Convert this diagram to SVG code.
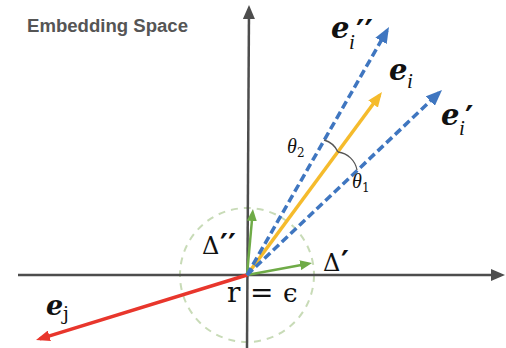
<svg xmlns="http://www.w3.org/2000/svg" width="506" height="348" viewBox="0 0 506 348">
<style>
.axis{stroke:#4d4d4d;stroke-width:2.5;fill:none}
.blue{stroke:#3f76c0;stroke-width:3.5;stroke-dasharray:8 4;fill:none}
.yellow{stroke:#f5bb2c;stroke-width:3.5;fill:none}
.red{stroke:#e8362c;stroke-width:3.5;fill:none}
.green{stroke:#6fab47;stroke-width:2.5;fill:none}
.arc{stroke:#555;stroke-width:1.3;fill:none}
.ring{stroke:#c8dbb7;stroke-width:2;stroke-dasharray:7 6;fill:none}
.ev{font-family:"DejaVu Serif",serif;font-weight:bold;font-style:italic;fill:#111}
.sub{font-family:"Liberation Serif",serif;font-style:italic;font-weight:normal;fill:#111}
.prime{font-family:"DejaVu Sans",sans-serif;font-weight:bold;font-style:normal;fill:#111}
.math{font-family:"DejaVu Serif","Liberation Serif",serif;fill:#111}
.title{font-family:"Liberation Sans",Arial,sans-serif;font-weight:bold;fill:#555}
</style>
<defs>
<marker id="mAxis" markerUnits="userSpaceOnUse" markerWidth="14" markerHeight="12" refX="10" refY="6" orient="auto"><path d="M0,0 L14,6 L0,12 z" fill="#4d4d4d"/></marker>
<marker id="mBlue" markerUnits="userSpaceOnUse" markerWidth="16" markerHeight="13" refX="12" refY="6.5" orient="auto"><path d="M0,0 L16,6.5 L0,13 z" fill="#3f76c0"/></marker>
<marker id="mYellow" markerUnits="userSpaceOnUse" markerWidth="15" markerHeight="12" refX="11" refY="6" orient="auto"><path d="M0,0 L15,6 L0,12 z" fill="#f5bb2c"/></marker>
<marker id="mRed" markerUnits="userSpaceOnUse" markerWidth="14" markerHeight="11" refX="10" refY="5.5" orient="auto"><path d="M0,0 L14,5.5 L0,11 z" fill="#e8362c"/></marker>
<marker id="mGreen" markerUnits="userSpaceOnUse" markerWidth="12" markerHeight="10" refX="8" refY="5" orient="auto"><path d="M0,0 L12,5 L0,10 z" fill="#6fab47"/></marker>
</defs>
<text class="title" x="27" y="32" font-size="17.5" textLength="161" lengthAdjust="spacingAndGlyphs">Embedding Space</text>
<g id="ring"><circle class="ring" cx="247" cy="275" r="67"/></g>
<g id="connectors">
<line id="x-axis" class="axis" x1="18" y1="275" x2="501" y2="275" marker-end="url(#mAxis)"/>
<line id="y-axis" class="axis" x1="247" y1="348" x2="249" y2="9" marker-end="url(#mAxis)"/>
<line id="delta2" class="green" x1="247" y1="275" x2="252.6" y2="213" marker-end="url(#mGreen)"/>
<line id="delta1" class="green" x1="247" y1="275" x2="308.1" y2="263.7" marker-end="url(#mGreen)"/>
<line id="ej" class="red" x1="247" y1="275" x2="39.8" y2="338.8" marker-end="url(#mRed)"/>
<line id="ei" class="yellow" x1="247" y1="275" x2="379.6" y2="95.2" marker-end="url(#mYellow)"/>
<line id="ei2" class="blue" x1="247" y1="275" x2="387" y2="30.5" marker-end="url(#mBlue)"/>
<line id="ei1" class="blue" x1="247" y1="275" x2="439.1" y2="92.8" marker-end="url(#mBlue)"/>
<path id="theta2-arc" class="arc" d="M324,140 A22,22 0 0 1 338,152"/>
<path id="theta1-arc" class="arc" d="M338,152 A22,22 0 0 1 357,170"/>
</g>
<g id="label-ei2"><text><tspan class="ev" x="331" y="38" font-size="29">e</tspan><tspan class="sub" x="349" y="49" font-size="21">i</tspan><tspan class="prime" x="356" y="42" font-size="32">′′</tspan></text></g>
<g id="label-ei"><text><tspan class="ev" x="389" y="80" font-size="29">e</tspan><tspan class="sub" x="407" y="88" font-size="21">i</tspan></text></g>
<g id="label-ei1"><text><tspan class="ev" x="441" y="125" font-size="29">e</tspan><tspan class="sub" x="459" y="135" font-size="21">i</tspan><tspan class="prime" x="465" y="128" font-size="32">′</tspan></text></g>
<g id="label-ej"><text><tspan class="ev" x="46" y="315" font-size="27">e</tspan><tspan class="math" x="63" y="320" font-size="19" font-family="Liberation Serif">j</tspan></text></g>
<g id="label-theta2"><text><tspan class="sub" x="287" y="153" font-size="20">θ</tspan><tspan class="math" x="297" y="157" font-size="12">2</tspan></text></g>
<g id="label-theta1"><text><tspan class="sub" x="352" y="188" font-size="20">θ</tspan><tspan class="math" x="362" y="192" font-size="12">1</tspan></text></g>
<g id="label-delta2"><text><tspan class="math" x="202" y="254" font-size="24">Δ</tspan><tspan class="prime" x="220" y="255" font-size="30">′′</tspan></text></g>
<g id="label-delta1"><text><tspan class="math" x="323" y="271" font-size="24">Δ</tspan><tspan class="prime" x="341" y="272" font-size="30">′</tspan></text></g>
<g id="label-r"><text><tspan class="math" x="227" y="302" font-size="28" font-family="Liberation Serif">r</tspan><tspan class="math" x="250" y="302" font-size="28" font-family="Liberation Serif">=</tspan><tspan class="math" x="283" y="302" font-size="26">ϵ</tspan></text></g>
</svg>
